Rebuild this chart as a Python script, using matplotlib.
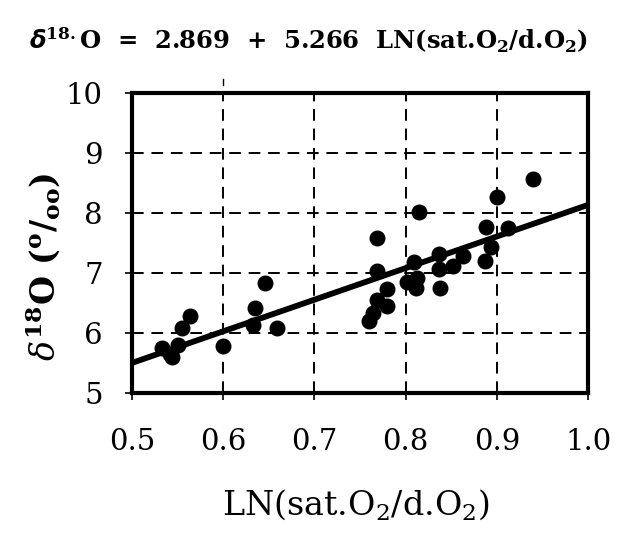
import matplotlib
matplotlib.use("Agg")
import matplotlib.pyplot as plt
import numpy as np

# valores
ln_ratio = [0.533, 0.542, 0.544, 0.550, 0.555, 0.564, 0.600, 0.633, 0.635, 0.646,
            0.659, 0.760, 0.764, 0.769, 0.769, 0.769, 0.780, 0.780, 0.801, 0.809,
            0.811, 0.812, 0.815, 0.836, 0.836, 0.838, 0.852, 0.863, 0.887, 0.888,
            0.894, 0.900, 0.912, 0.940]
d18o = [5.75, 5.65, 5.60, 5.80, 6.08, 6.28, 5.78, 6.13, 6.42, 6.84,
        6.08, 6.20, 6.33, 6.55, 7.03, 7.58, 6.73, 6.45, 6.85, 7.18,
        6.75, 6.92, 8.02, 7.32, 7.07, 6.75, 7.12, 7.28, 7.20, 7.77,
        7.43, 8.27, 7.75, 8.57]

intercept = 2.869
slope = 5.266

xticks = [0.5, 0.6, 0.7, 0.8, 0.9, 1.0]
yticks = [5, 6, 7, 8, 9, 10]

plt.rcParams['font.family'] = ['DejaVu Serif']
plt.rcParams['mathtext.fontset'] = 'custom'
plt.rcParams['mathtext.rm'] = 'DejaVu Serif'
plt.rcParams['mathtext.it'] = 'DejaVu Serif:italic'
plt.rcParams['mathtext.bf'] = 'DejaVu Serif:bold'

fig = plt.figure(figsize=(6.23, 5.34), dpi=100)
ax = fig.add_axes([0.212, 0.264, 0.732, 0.562])

# cuadrícula discontinua
for xv in xticks[1:-1]:
    ax.axvline(xv, color='black', lw=1.4, ls=(0, (6, 4)), zorder=1)
for yv in yticks[1:-1]:
    ax.axhline(yv, color='black', lw=1.4, ls=(0, (6, 4)), zorder=1)
ax.axvline(0.6, ymin=1.025, ymax=1.045, color='black', lw=1.0, clip_on=False)

ax.scatter(ln_ratio, d18o, s=110, color='black', zorder=3)

xfit = np.array([xticks[0], xticks[-1]])
ax.plot(xfit, intercept + slope * xfit, color='black', lw=4.2, zorder=4,
        solid_capstyle='butt')

ax.set_xlim(0.5, 1.0)
ax.set_ylim(5, 10)
ax.set_xticks(xticks)
ax.set_xticklabels([f"{v:.1f}" for v in xticks])
ax.set_yticks(yticks)
for s in ax.spines.values():
    s.set_linewidth(3)
ax.tick_params(direction='out', length=5, width=1.2, labelsize=21)
ax.tick_params(axis='x', pad=20)
ax.tick_params(axis='y', pad=16)

ax.set_xlabel(r"LN(sat.O$_2$/d.O$_2$)", fontsize=24)
ax.xaxis.set_label_coords(0.49, -0.315)
ax.set_ylabel(r"$\delta^{\mathbf{18}}$O ($^{\mathbf{o}}$/$_{\mathbf{oo}}$)",
              fontsize=24, fontweight='bold')
ax.yaxis.set_label_coords(-0.153, 0.42)

fig.text(0.495, 0.925,
         r"$\boldsymbol{\delta}^{\mathbf{18.}}$O  =  2.869  +  5.266  LN(sat.O$_\mathbf{2}$/d.O$_\mathbf{2}$)",
         ha='center', va='center', fontsize=17.5, fontweight='bold')

fig.savefig("out.png", dpi=100)
